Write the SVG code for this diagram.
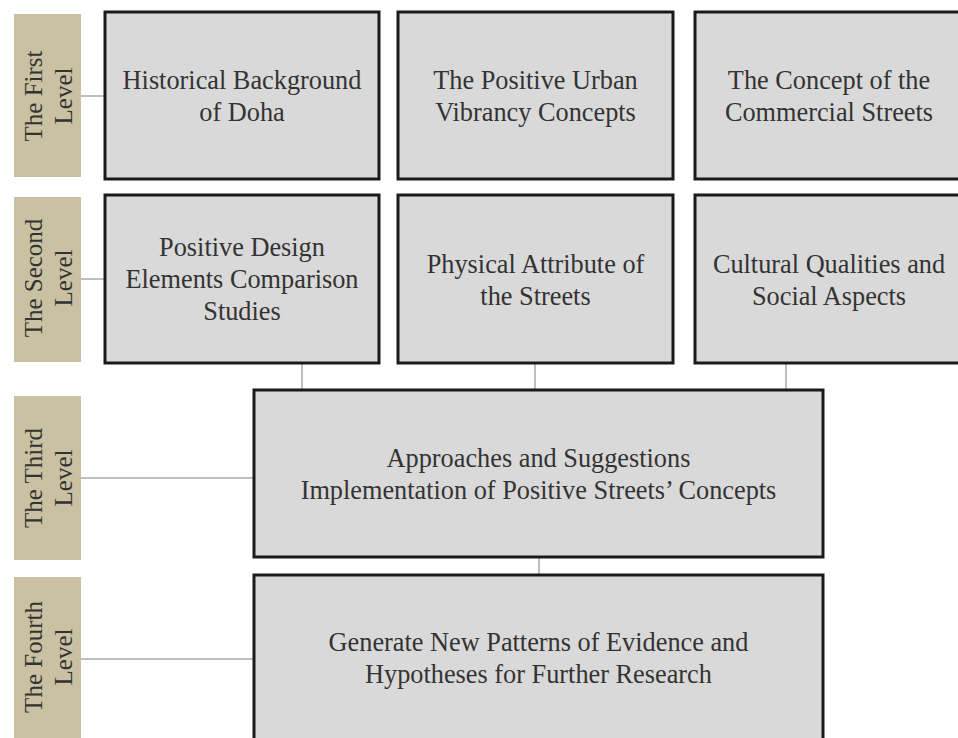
<svg xmlns="http://www.w3.org/2000/svg" width="958" height="738" viewBox="0 0 958 738">
<style>
.lvl{fill:#c9c1a1}
.box{fill:#d9d9d9;stroke:#1a1a1a;stroke-width:3}
.t{font-family:"Liberation Serif","Times New Roman",serif;font-size:26.3px;fill:#333;text-anchor:middle}
.l{font-size:25px}
.conn line{stroke:#a8a8a8;stroke-width:1.5}
</style>
<rect width="958" height="738" fill="#fff"/>
<g id="connectors" class="conn">
<line x1="81" y1="96" x2="105" y2="96"/>
<line x1="81" y1="279" x2="105" y2="279"/>
<line x1="81" y1="478" x2="254" y2="478"/>
<line x1="81" y1="659" x2="254" y2="659"/>
<line x1="302" y1="363" x2="302" y2="390"/>
<line x1="535" y1="363" x2="535" y2="390"/>
<line x1="786" y1="363" x2="786" y2="390"/>
<line x1="539" y1="557" x2="539" y2="575"/>
</g>
<g id="level1">
<rect class="lvl" x="14" y="14" width="67" height="163"/>
<text class="t l" transform="translate(47.5,96) rotate(-90)"><tspan x="0" y="-6">The First</tspan><tspan x="0" y="24">Level</tspan></text>
</g>
<g id="level2">
<rect class="lvl" x="14" y="197" width="67" height="165"/>
<text class="t l" transform="translate(47.5,278) rotate(-90)"><tspan x="0" y="-6">The Second</tspan><tspan x="0" y="24">Level</tspan></text>
</g>
<g id="level3">
<rect class="lvl" x="14" y="396" width="67" height="164"/>
<text class="t l" transform="translate(47.5,478) rotate(-90)"><tspan x="0" y="-6">The Third</tspan><tspan x="0" y="24">Level</tspan></text>
</g>
<g id="level4">
<rect class="lvl" x="14" y="577" width="67" height="170"/>
<text class="t l" transform="translate(47.5,657) rotate(-90)"><tspan x="0" y="-6">The Fourth</tspan><tspan x="0" y="24">Level</tspan></text>
</g>
<g id="historical">
<rect class="box" x="105" y="12" width="274" height="167"/>
<text class="t"><tspan x="242" y="89">Historical Background</tspan><tspan x="242" y="121">of Doha</tspan></text>
</g>
<g id="vibrancy">
<rect class="box" x="398" y="12" width="275" height="167"/>
<text class="t"><tspan x="535.5" y="89">The Positive Urban</tspan><tspan x="535.5" y="121">Vibrancy Concepts</tspan></text>
</g>
<g id="commercial">
<rect class="box" x="695" y="12" width="272" height="167"/>
<text class="t"><tspan x="829" y="89">The Concept of the</tspan><tspan x="829" y="121">Commercial Streets</tspan></text>
</g>
<g id="design">
<rect class="box" x="105" y="195" width="274" height="168"/>
<text class="t"><tspan x="242" y="256">Positive Design</tspan><tspan x="242" y="288">Elements Comparison</tspan><tspan x="242" y="320">Studies</tspan></text>
</g>
<g id="physical">
<rect class="box" x="398" y="195" width="275" height="168"/>
<text class="t"><tspan x="535.5" y="273">Physical Attribute of</tspan><tspan x="535.5" y="305">the Streets</tspan></text>
</g>
<g id="cultural">
<rect class="box" x="695" y="195" width="272" height="168"/>
<text class="t"><tspan x="829" y="273">Cultural Qualities and</tspan><tspan x="829" y="305">Social Aspects</tspan></text>
</g>
<g id="approaches">
<rect class="box" x="254" y="390" width="569" height="167"/>
<text class="t"><tspan x="538.5" y="467">Approaches and Suggestions</tspan><tspan x="538.5" y="499">Implementation of Positive Streets’ Concepts</tspan></text>
</g>
<g id="generate">
<rect class="box" x="254" y="575" width="569" height="170"/>
<text class="t"><tspan x="538.5" y="651">Generate New Patterns of Evidence and</tspan><tspan x="538.5" y="683">Hypotheses for Further Research</tspan></text>
</g>
</svg>
